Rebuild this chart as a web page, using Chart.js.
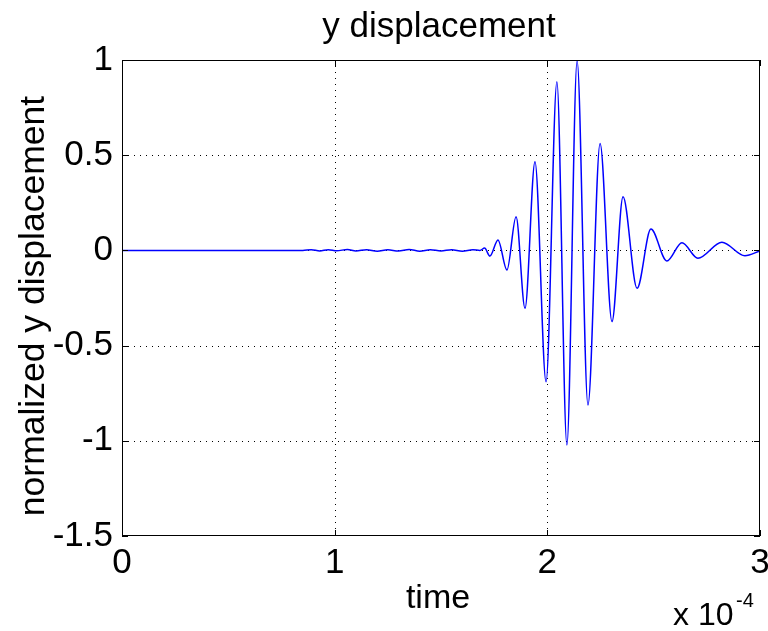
<!DOCTYPE html>
<html>
<head>
<meta charset="utf-8">
<script src="https://cdn.jsdelivr.net/npm/chart.js@4"></script>
<style>
  html, body { margin: 0; padding: 0; background: #fff; }
  canvas { display: block; }
</style>
</head>
<body>
<canvas id="chart" width="768" height="631"></canvas>
<script>
// time in units of 1e-4 s (axis shows "x 10^-4")
const time = [
  0, 0.85, 0.89, 0.93, 0.97, 1.01, 1.06, 1.10, 1.15, 1.20, 1.25, 1.30, 1.35,
  1.40, 1.45, 1.50, 1.55, 1.60, 1.65, 1.683, 1.705, 1.730, 1.768, 1.810,
  1.853, 1.895, 1.942, 1.994, 2.045, 2.092, 2.140, 2.191, 2.248, 2.304,
  2.356, 2.422, 2.487, 2.562, 2.633, 2.708, 2.821, 2.929, 3.0
];
const displacement = [
  0, 0, 0.004, -0.003, 0.004, -0.002, 0.005, -0.003, 0.004, -0.004, 0.003,
  -0.003, 0.005, -0.004, 0.004, -0.003, 0.004, -0.004, 0.003, 0, 0.012,
  -0.03, 0.055, -0.103, 0.177, -0.304, 0.466, -0.69, 0.886, -1.022, 0.996,
  -0.812, 0.562, -0.374, 0.282, -0.199, 0.112, -0.056, 0.040, -0.041,
  0.043, -0.028, -0.003
];
const xTicks = [0, 1, 2, 3];
const yTicks = [-1.5, -1, -0.5, 0, 0.5, 1];

const FONT = '"Liberation Sans", Arial, sans-serif';

// matlab style box, inward ticks, dotted grid and the texts
const matlabFrame = {
  id: "matlabFrame",
  beforeDatasetsDraw(chart) {
    const { ctx, chartArea: a, scales: { x, y } } = chart;
    ctx.save();
    ctx.strokeStyle = "#000";
    ctx.lineWidth = 1;
    ctx.setLineDash([1, 5]);
    xTicks.slice(1, -1).forEach((v) => {
      const px = Math.round(x.getPixelForValue(v)) + 0.5;
      ctx.beginPath();
      ctx.moveTo(px, a.top);
      ctx.lineTo(px, a.bottom);
      ctx.stroke();
    });
    yTicks.slice(1, -1).forEach((v) => {
      const py = Math.round(y.getPixelForValue(v)) + 0.5;
      ctx.beginPath();
      ctx.moveTo(a.left, py);
      ctx.lineTo(a.right, py);
      ctx.stroke();
    });
    ctx.restore();
  },
  afterDraw(chart) {
    const { ctx, chartArea: a, scales: { x, y } } = chart;
    const tl = 6;
    ctx.save();
    ctx.strokeStyle = "#000";
    ctx.lineWidth = 1;
    ctx.strokeRect(a.left + 0.5, a.top + 0.5, a.right - a.left - 1, a.bottom - a.top - 1);
    ctx.beginPath();
    xTicks.forEach((v) => {
      const px = Math.round(x.getPixelForValue(v)) + 0.5;
      ctx.moveTo(px, a.bottom);
      ctx.lineTo(px, a.bottom - tl);
      ctx.moveTo(px, a.top);
      ctx.lineTo(px, a.top + tl);
    });
    yTicks.forEach((v) => {
      const py = Math.round(y.getPixelForValue(v)) + 0.5;
      ctx.moveTo(a.left, py);
      ctx.lineTo(a.left + tl, py);
      ctx.moveTo(a.right, py);
      ctx.lineTo(a.right - tl, py);
    });
    ctx.stroke();

    ctx.fillStyle = "#000";
    ctx.font = "35px " + FONT;
    ctx.textAlign = "center";
    ctx.textBaseline = "alphabetic";
    const cx = (a.left + a.right) / 2;
    ctx.fillText("y displacement", cx - 2, 37);
    ctx.font = "34px " + FONT;
    ctx.fillText("time", cx - 3, 608);

    ctx.save();
    ctx.font = "35.5px " + FONT;
    ctx.translate(44, 306);
    ctx.rotate(-Math.PI / 2);
    ctx.fillText("normalized y displacement", 0, 0);
    ctx.restore();

    ctx.textAlign = "left";
    ctx.font = "32px " + FONT;
    ctx.fillText("x 10", 673, 625);
    ctx.font = "20px " + FONT;
    ctx.fillText("-4", 736, 607);
    ctx.restore();
  },
};

new Chart(document.getElementById("chart").getContext("2d"), {
  type: "line",
  data: {
    datasets: [
      {
        data: time.map((t, i) => ({ x: t, y: displacement[i] })),
        borderColor: "#0000ff",
        borderWidth: 1.5,
        pointRadius: 0,
        fill: false,
        cubicInterpolationMode: "monotone",
      },
    ],
  },
  options: {
    responsive: false,
    animation: false,
    layout: { padding: { top: 60, right: 8, left: 0, bottom: 0 } },
    plugins: {
      legend: { display: false },
      title: { display: false },
      tooltip: { enabled: false },
    },
    scales: {
      x: {
        type: "linear",
        min: 0,
        max: 3,
        afterBuildTicks: (s) => { s.ticks = xTicks.map((v) => ({ value: v })); },
        afterFit: (s) => { s.height = 95; s.paddingLeft = 0; s.paddingRight = 0; },
        grid: { display: false, drawTicks: false },
        border: { display: false },
        ticks: {
          color: "#000",
          padding: 6,
          maxRotation: 0,
          font: { family: FONT, size: 35 },
          callback: (v) => String(v),
        },
      },
      y: {
        type: "linear",
        min: -1.5,
        max: 1,
        afterBuildTicks: (s) => { s.ticks = yTicks.map((v) => ({ value: v })); },
        afterFit: (s) => { s.width = 122; },
        grid: { display: false, drawTicks: false },
        border: { display: false },
        ticks: {
          color: "#000",
          padding: 9,
          font: { family: FONT, size: 35 },
          callback: (v) => String(v),
        },
      },
    },
  },
  plugins: [matlabFrame],
});
</script>
</body>
</html>
